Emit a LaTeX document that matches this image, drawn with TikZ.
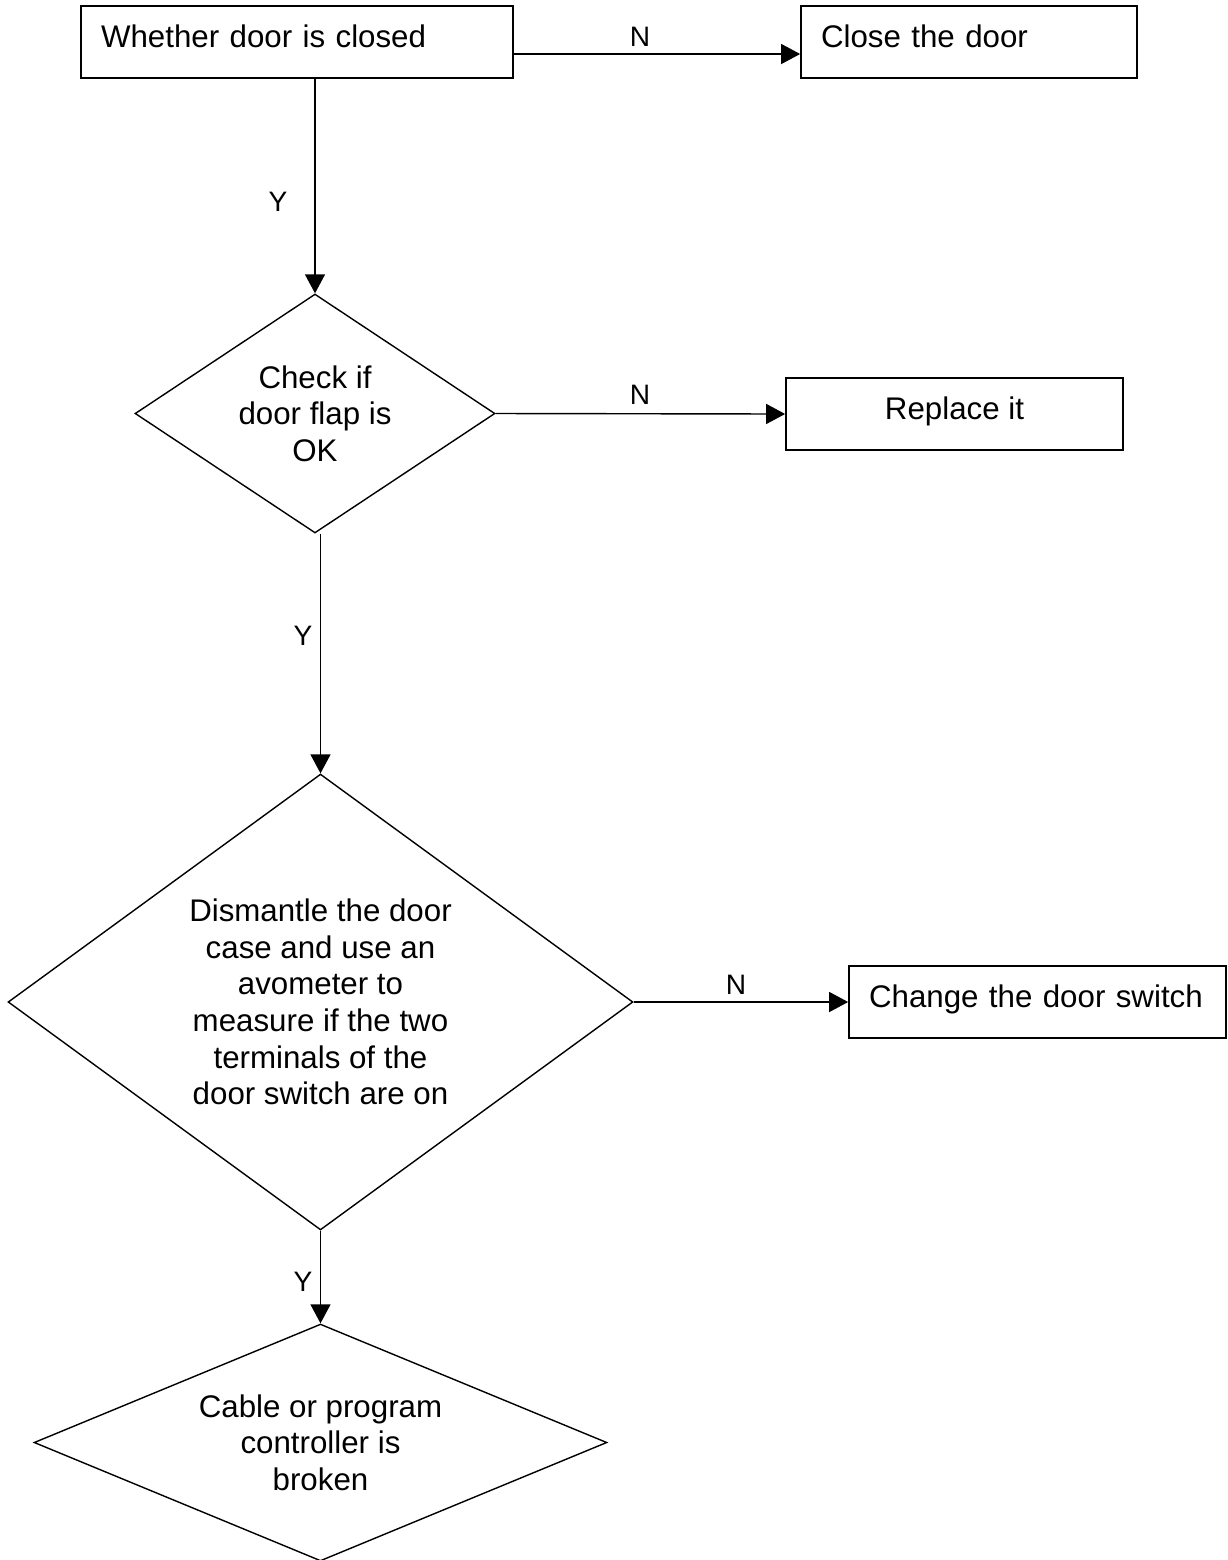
\documentclass[tikz,border=0pt]{standalone}
\usepackage{fontspec}
\setmainfont{Liberation Sans}
\usepackage{tikz}
\usetikzlibrary{arrows.meta,shapes.geometric}

\begin{document}
\begin{tikzpicture}[x=0.02cm, y=-0.02cm,
	box/.style={draw, line width=1pt, minimum height=1.44cm, inner xsep=0.4cm, text depth=0.22cm, font=\fontsize{17.8}{20.8}\selectfont},
	leftbox/.style={box, align=left},
	check/.style={diamond, draw, line width=0.8pt, inner sep=1pt, align=center, font=\fontsize{17.8}{20.8}\selectfont},
	lbl/.style={font=\fontsize{16}{18}\selectfont},
	flow/.style={-{Triangle[length=0.38cm, width=0.4cm]}, line width=0.8pt}]
						\useasboundingbox (0, 0) rectangle (1228, 1560);
						\node[leftbox, minimum width=8.64cm, text width=7.84cm] (closed) at (297, 42) {Whether door is closed};
						\node[leftbox, minimum width=6.72cm, text width=5.92cm] (closedoor) at (969, 42) {Close the door};
						\node[check, minimum width=7.2cm, minimum height=4.78cm, aspect=1.5] (flap) at (315, 413.5) {Check if\\door flap is\\OK};
						\node[box, minimum width=6.74cm] (replace) at (954.5, 414) {Replace it};
						\node[check, minimum width=12.5cm, minimum height=9.12cm, aspect=1.37] (switch) at (320.5, 1002) {Dismantle the door\\case and use an\\avometer to\\measure if the two\\terminals of the\\door switch are on};
						\node[leftbox, minimum width=7.54cm, text width=6.74cm] (change) at (1037.5, 1002) {Change the door switch};
						\node[check, minimum width=11.46cm, minimum height=4.74cm, aspect=2.42] (cable) at (320.5, 1442.5) {Cable or program\\controller is\\broken};
						\node[lbl] (n1) at (640, 37) {N};
						\node[lbl] (y1) at (278, 202) {Y};
						\node[lbl] (n2) at (640, 395) {N};
						\node[lbl] (y2) at (303, 636) {Y};
						\node[lbl] (n3) at (736, 985) {N};
						\node[lbl] (y3) at (303, 1282) {Y};
						\draw[flow] ([yshift=-0.24cm]closed.east) -- ([yshift=-0.24cm]closedoor.west);
						\draw[flow] (closed.south -| flap.north) -- (flap.north);
						\draw[flow] (flap.east) -- (replace.west);
						\draw[flow] (flap.south -| switch.north) -- (switch.north);
						\draw[flow] (switch.east) -- (change.west);
						\draw[flow] (switch.south) -- (cable.north);
					\end{tikzpicture}
\end{document}
